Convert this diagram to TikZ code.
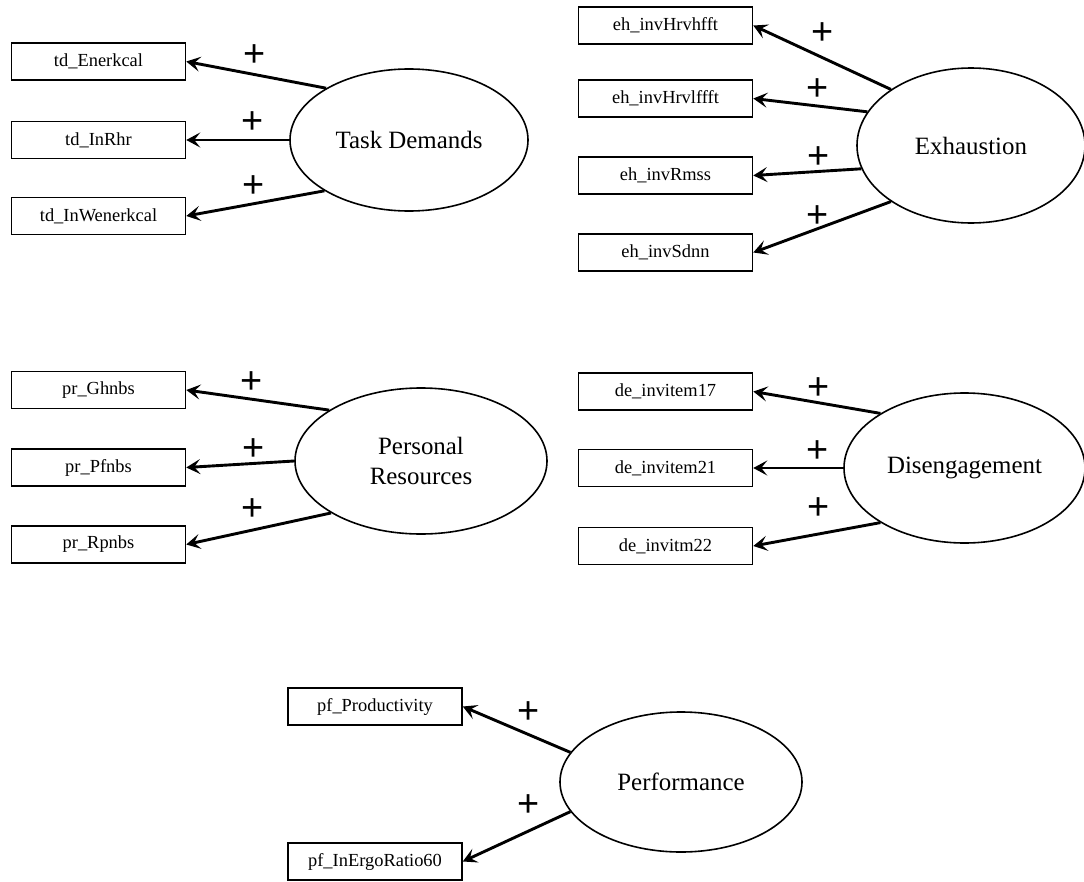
\documentclass[tikz,border=0pt]{standalone}
\usepackage{fontspec}
\setmainfont{Liberation Serif}
\newfontfamily\plusfont{Liberation Sans}
\usetikzlibrary{shapes.geometric,arrows.meta}

\tikzset{
  indicator/.style={draw, line width=1.5bp, rectangle, minimum width=174bp,
    minimum height=37bp, inner sep=0pt, font=\fontsize{18.5}{20}\selectfont},
  construct/.style={draw, line width=1.6bp, ellipse, inner sep=0pt,
    align=center, font=\fontsize{25}{30}\selectfont},
  loading/.style={line width=2.9bp, -{Stealth[length=14bp,width=15bp,inset=6bp]}},
  plus/.style={font=\plusfont\fontsize{38}{40}\selectfont, inner sep=0pt}
}

\begin{document}
\begin{tikzpicture}[x=1bp, y=-1bp]
\useasboundingbox (0,0) rectangle (1084,882);

% Task Demands
\node[construct, minimum width=238bp, minimum height=142bp] (td) at (409,140) {Task Demands};
\node[indicator] (td1) at (98.5,61.5) {td\_Enerkcal};
\node[indicator] (td2) at (98.5,140) {td\_InRhr};
\node[indicator] (td3) at (98.5,216) {td\_InWenerkcal};
\draw[loading] (td.148) -- node[plus, pos=0.51, yshift=19bp] {+} (td1.east);
\draw[loading] (td.180) -- node[plus, pos=0.36, yshift=17bp] {+} (td2.east);
\draw[loading] (td.211) -- node[plus, pos=0.51, yshift=17bp] {+} (td3.east);

% Exhaustion
\node[construct, minimum width=228bp, minimum height=155bp] (eh) at (971,145.5) {Exhaustion};
\node[indicator] (eh1) at (665.5,25.5) {eh\_invHrvhfft};
\node[indicator] (eh2) at (665.5,98.5) {eh\_invHrvlffft};
\node[indicator] (eh3) at (665.5,175.5) {eh\_invRmss};
\node[indicator] (eh4) at (665.5,252.5) {eh\_invSdnn};
\draw[loading] (eh.145) -- node[plus, pos=0.50, yshift=24bp] {+} (eh1.east);
\draw[loading] (eh.162) -- node[plus, pos=0.435, yshift=16bp] {+} (eh2.east);
\draw[loading] (eh.192) -- node[plus, pos=0.40, yshift=14bp] {+} (eh3.east);
\draw[loading] (eh.215) -- node[plus, pos=0.53, yshift=12bp] {+} (eh4.east);

% Personal Resources
\node[construct, minimum width=252bp, minimum height=146bp] (pr) at (421,461) {Personal\\Resources};
\node[indicator] (pr1) at (98.5,390) {pr\_Ghnbs};
\node[indicator] (pr2) at (98.5,467.5) {pr\_Pfnbs};
\node[indicator] (pr3) at (98.5,544.5) {pr\_Rpnbs};
\draw[loading] (pr.151) -- node[plus, pos=0.54, yshift=17bp] {+} (pr1.east);
\draw[loading] (pr.180) -- node[plus, pos=0.38, yshift=14bp] {+} (pr2.east);
\draw[loading] (pr.210) -- node[plus, pos=0.54, yshift=20bp] {+} (pr3.east);

% Disengagement
\node[construct, minimum width=241bp, minimum height=150bp] (de) at (964.5,468) {Disengagement};
\node[indicator] (de1) at (665.5,391.5) {de\_invitem17};
\node[indicator] (de2) at (665.5,468) {de\_invitem21};
\node[indicator] (de3) at (665.5,546) {de\_invitm22};
\draw[loading] (de.147) -- node[plus, pos=0.49, yshift=14bp] {+} (de1.east);
\draw[loading] (de.180) -- node[plus, pos=0.29, yshift=16bp] {+} (de2.east);
\draw[loading] (de.213) -- node[plus, pos=0.49, yshift=26bp] {+} (de3.east);

% Performance
\node[construct, minimum width=242bp, minimum height=140bp] (pf) at (681,782) {Performance};
\node[indicator] (pf1) at (375,706.5) {pf\_Productivity};
\node[indicator] (pf2) at (375,861.5) {pf\_InErgoRatio60};
\draw[loading] (pf.165) -- node[plus, pos=0.39, yshift=22bp] {+} (pf1.east);
\draw[loading] (pf.195) -- node[plus, pos=0.39, yshift=26bp] {+} (pf2.east);
\end{tikzpicture}
\end{document}
